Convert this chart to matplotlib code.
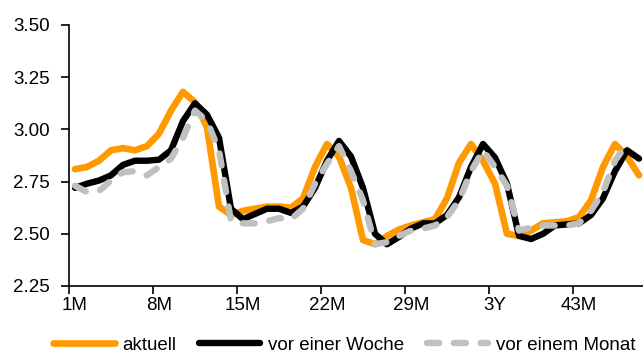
import matplotlib
matplotlib.use("Agg")
import matplotlib.pyplot as plt
import numpy as np

# Laufzeiten 1M .. 48M, volle Jahre als Y beschriftet
tenors = [f"{m // 12}Y" if m % 12 == 0 else f"{m}M" for m in range(1, 49)]

aktuell = [2.81, 2.82, 2.85, 2.90, 2.91, 2.90, 2.92, 2.98, 3.09, 3.18, 3.13, 3.01,
           2.63, 2.59, 2.61, 2.62, 2.63, 2.63, 2.625, 2.67, 2.82, 2.93, 2.87, 2.72,
           2.47, 2.45, 2.49, 2.52, 2.54, 2.555, 2.57, 2.67, 2.84, 2.93, 2.85, 2.74,
           2.50, 2.49, 2.515, 2.55, 2.555, 2.56, 2.58, 2.66, 2.82, 2.93, 2.87, 2.78]

vor_woche = [2.72, 2.74, 2.755, 2.78, 2.83, 2.85, 2.85, 2.855, 2.90, 3.04, 3.125, 3.07,
             2.96, 2.62, 2.57, 2.595, 2.62, 2.62, 2.60, 2.63, 2.72, 2.85, 2.945, 2.87,
             2.72, 2.50, 2.45, 2.485, 2.525, 2.55, 2.55, 2.59, 2.675, 2.82, 2.93, 2.865,
             2.74, 2.49, 2.475, 2.50, 2.54, 2.545, 2.55, 2.59, 2.67, 2.80, 2.90, 2.86]

vor_monat = [2.73, 2.70, 2.705, 2.755, 2.795, 2.80, 2.78, 2.82, 2.86, 2.96, 3.09, 3.04,
             2.90, 2.56, 2.55, 2.55, 2.56, 2.575, 2.57, 2.62, 2.74, 2.835, 2.92, 2.80,
             2.66, 2.45, 2.46, 2.49, 2.515, 2.525, 2.54, 2.58, 2.66, 2.80, 2.90, 2.82,
             2.73, 2.515, 2.53, 2.54, 2.54, 2.54, 2.55, 2.61, 2.70, 2.85, 2.93, np.nan]

y_ticks = [2.25, 2.50, 2.75, 3.00, 3.25, 3.50]

plt.rcParams["font.family"] = ["Liberation Sans", "DejaVu Sans"]

fig = plt.figure(figsize=(6.43, 3.58), dpi=100)
ax = fig.add_axes([69 / 643, 72 / 358, 576 / 643, 261 / 358])

x = np.arange(len(tenors))
ax.plot(x, aktuell, color="#FF9900", lw=4.8, solid_capstyle="round",
        solid_joinstyle="round", label="aktuell", zorder=2)
ax.plot(x, vor_woche, color="black", lw=4.6, solid_capstyle="round",
        solid_joinstyle="round", label="vor einer Woche", zorder=3)
ax.plot(x, vor_monat, color="#C0C0C0", lw=4.6, dashes=(1.9, 2.3),
        dash_capstyle="round", label="vor einem Monat", zorder=4)

ax.set_xlim(-0.5, len(tenors) - 0.5)
ax.set_ylim(2.25, 3.50)
ax.set_yticks(y_ticks)
ax.set_yticklabels([f"{v:.2f}" for v in y_ticks])

# Beschriftung jede 7. Laufzeit, Striche zwischen den Kategorien
ax.set_xticks(x[::7])
ax.set_xticklabels(tenors[::7])
ax.set_xticks(x[::7] - 0.5, minor=True)
ax.tick_params(axis="x", which="major", length=0, pad=8, labelsize=13.5)
ax.tick_params(axis="x", which="minor", length=6, width=1.2, direction="out")
ax.tick_params(axis="y", length=6, width=1.2, direction="out", pad=8, labelsize=13.5)

for side in ["top", "right"]:
    ax.spines[side].set_visible(False)
for side in ["left", "bottom"]:
    ax.spines[side].set_linewidth(1.2)

fig.legend(loc="center", bbox_to_anchor=(0.535, 0.035), ncol=3, frameon=False,
           fontsize=13.5, handlelength=3.3, handletextpad=0.4, columnspacing=1.2,
           borderaxespad=0)

fig.savefig("out.png", dpi=100)
